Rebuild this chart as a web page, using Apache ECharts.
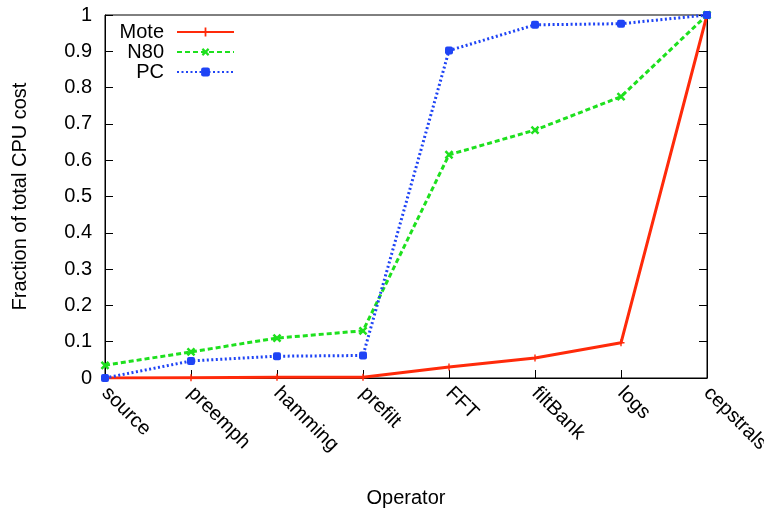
<!DOCTYPE html>
<html>
<head>
<meta charset="utf-8">
<script src="https://cdn.jsdelivr.net/npm/echarts@6/dist/echarts.min.js"></script>
<style>html,body{margin:0;padding:0;background:#fff}#c{width:764px;height:512px}</style>
</head>
<body>
<div id="c"></div>
<script>
const categories = ['source','preemph','hamming','prefilt','FFT','filtBank','logs','cepstrals'];
const moteValues = [0, 0.001, 0.002, 0.002, 0.03, 0.055, 0.097, 1];
const n80Values  = [0.035, 0.072, 0.11, 0.13, 0.615, 0.683, 0.775, 1];
const pcValues   = [0, 0.047, 0.06, 0.062, 0.902, 0.973, 0.976, 1];
const seriesNames = ['Mote','N80','PC'];
const yTicks = {min: 0, max: 1, step: 0.1};

const FONT = 'Liberation Sans, Arial, Helvetica, sans-serif';
const plus = 'path://M3.2,0h1.6v8h-1.6z M0,3.2h8v1.6h-8z';
const cross = 'path://M3,0h2v8h-2z M0,3h8v2h-8z';

const chart = echarts.init(document.getElementById('c'), null, {renderer: 'canvas'});
chart.setOption({
  animation: false,
  backgroundColor: '#fff',
  grid: {left: 105, right: 57, top: 15, bottom: 134, containLabel: false, outerBoundsMode: 'none',
    show: true, borderColor: '#000', borderWidth: 1},
  legend: {
    orient: 'vertical', right: 529, top: 22, padding: 0, align: 'right',
    itemWidth: 57, itemHeight: 11, itemGap: 0,
    textStyle: {fontFamily: FONT, fontSize: 20, lineHeight: 20, color: '#000', padding: [0, 8, 0, 0]},
    data: seriesNames
  },
  xAxis: {
    type: 'category', data: categories, boundaryGap: false,
    name: 'Operator', nameLocation: 'middle', nameGap: 110,
    nameTextStyle: {fontFamily: FONT, fontSize: 20, color: '#000'},
    axisLine: {lineStyle: {color: '#000', width: 1}},
    axisTick: {inside: true, length: 8, lineStyle: {color: '#000'}},
    axisLabel: {rotate: -45, margin: 12, fontFamily: FONT, fontSize: 20, color: '#000', hideOverlap: false},
    splitLine: {show: false}
  },
  yAxis: [{
    type: 'value', min: yTicks.min, max: yTicks.max, interval: yTicks.step,
    name: 'Fraction of total CPU cost', nameLocation: 'middle', nameGap: 75,
    nameTextStyle: {fontFamily: FONT, fontSize: 20, color: '#000'},
    axisLine: {show: true, lineStyle: {color: '#000', width: 1}},
    axisTick: {show: true, inside: true, length: 8, lineStyle: {color: '#000'}},
    axisLabel: {margin: 13, fontFamily: FONT, fontSize: 20, color: '#000',
      formatter: v => String(Math.round(v * 10) / 10)},
    splitLine: {show: false}
  }, {
    type: 'value', min: yTicks.min, max: yTicks.max, interval: yTicks.step, position: 'right',
    axisLine: {show: true, lineStyle: {color: '#000', width: 1}},
    axisTick: {show: true, inside: true, length: 8, lineStyle: {color: '#000'}},
    axisLabel: {show: false}, splitLine: {show: false}
  }],
  series: [{
    name: seriesNames[0], type: 'line', data: moteValues,
    symbol: plus, symbolSize: 7, showAllSymbol: true,
    itemStyle: {color: '#ff2a0a'},
    lineStyle: {color: '#ff2a0a', width: 3, type: 'solid'}
  }, {
    name: seriesNames[1], type: 'line', data: n80Values,
    symbol: cross, symbolSize: 10, symbolRotate: 45, showAllSymbol: true,
    itemStyle: {color: '#1ee01e'},
    lineStyle: {color: '#1ee01e', width: 3, type: [5, 3]}
  }, {
    name: seriesNames[2], type: 'line', data: pcValues,
    symbol: 'roundRect', symbolSize: 8, showAllSymbol: true,
    itemStyle: {color: '#1f44f5'},
    lineStyle: {color: '#1f44f5', width: 3, type: [2, 2.5]}
  }]
});
</script>
</body>
</html>
